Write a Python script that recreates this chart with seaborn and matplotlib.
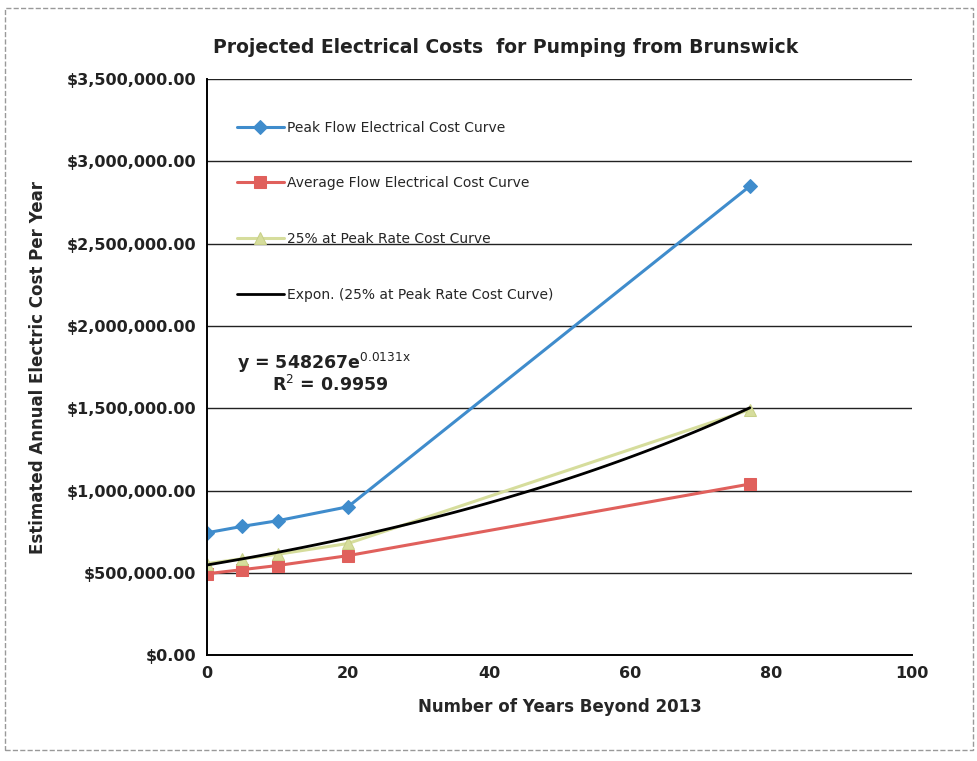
import numpy as np
import pandas as pd
import matplotlib
matplotlib.use("Agg")
import matplotlib.pyplot as plt
import seaborn as sns

# values
years = [0, 5, 10, 20, 77]
peak_cost = [744000, 783000, 817000, 902000, 2850000]
avg_cost = [495000, 520000, 545000, 605000, 1040000]
quarter_cost = [557000, 586000, 613000, 679000, 1492000]

# Excel exponential trendline shown on the chart
trend_a = 548267
trend_b = 0.0131
trend_r2 = 0.9959

y_ticks = [0, 500000, 1000000, 1500000, 2000000, 2500000, 3000000, 3500000]
x_ticks = [0, 20, 40, 60, 80, 100]

sns.set_style("white")
plt.rcParams['font.family'] = ['DejaVu Sans']

df = pd.DataFrame({'years': years, 'peak': peak_cost, 'avg': avg_cost, 'quarter': quarter_cost})

fig = plt.figure(figsize=(9.78, 7.61), dpi=100)
ax = fig.add_axes([0.2117, 0.139, 0.7208, 0.757])

# horizontal gridlines
for yv in y_ticks[1:]:
    ax.axhline(yv, color='#222222', lw=1.0, zorder=0)

sns.lineplot(data=df, x='years', y='peak', ax=ax, color='#3f8ccc', lw=2.2,
             marker='D', markersize=7, markeredgecolor='#3f8ccc',
             label='Peak Flow Electrical Cost Curve')
sns.lineplot(data=df, x='years', y='avg', ax=ax, color='#e0605c', lw=2.2,
             marker='s', markersize=8, markeredgecolor='#e0605c',
             label='Average Flow Electrical Cost Curve')
sns.lineplot(data=df, x='years', y='quarter', ax=ax, color='#d6dd9c', lw=2.2,
             marker='^', markersize=8, markeredgecolor='#c8d088',
             label='25% at Peak Rate Cost Curve')

tx = np.linspace(0, 77, 80)
trend = pd.DataFrame({'x': tx, 'y': trend_a * np.exp(trend_b * tx)})
sns.lineplot(data=trend, x='x', y='y', ax=ax, color='black', lw=2,
             label='Expon. (25% at Peak Rate Cost Curve)')

ax.set_xlim(0, 100)
ax.set_ylim(0, 3500000)
ax.set_xticks(x_ticks)
ax.set_yticks(y_ticks)
ax.set_yticklabels(['${:,.2f}'.format(v) for v in y_ticks])
ax.tick_params(axis='both', labelsize=11.5, length=0, pad=8)
for lab in ax.get_xticklabels() + ax.get_yticklabels():
    lab.set_fontweight('bold')
    lab.set_color('#222222')

for s in ['top', 'right']:
    ax.spines[s].set_visible(False)
for s in ['left', 'bottom']:
    ax.spines[s].set_color('black')
    ax.spines[s].set_linewidth(1.4)

ax.set_xlabel('Number of Years Beyond 2013', fontsize=12, fontweight='bold', labelpad=12)
ax.set_ylabel('Estimated Annual Electric Cost Per Year', fontsize=12, fontweight='bold', labelpad=14)
fig.text(0.517, 0.937, 'Projected Electrical Costs  for Pumping from Brunswick',
         ha='center', va='center', fontsize=13.5, fontweight='bold', color='#222222')

ax.text(0.043, 0.507, 'y = 548267e$^{\\mathrm{%s}}$' % (str(trend_b) + 'x'), transform=ax.transAxes,
        fontsize=12.5, fontweight='bold', color='#222222', va='center')
ax.text(0.092, 0.47, 'R$^{\\mathrm{2}}$ = %s' % trend_r2, transform=ax.transAxes,
        fontsize=12.5, fontweight='bold', color='#222222', va='center')

leg = ax.legend(loc='upper left', bbox_to_anchor=(0.032, 0.94), frameon=False,
                fontsize=10, labelspacing=3.0, handlelength=3.4, handletextpad=0.2,
                borderpad=0)

fig.patches.append(plt.Rectangle((0.005, 0.015), 0.99, 0.975, transform=fig.transFigure,
                                 fill=False, edgecolor='#999999', lw=1, ls='--'))

fig.savefig('out.png', dpi=100)
